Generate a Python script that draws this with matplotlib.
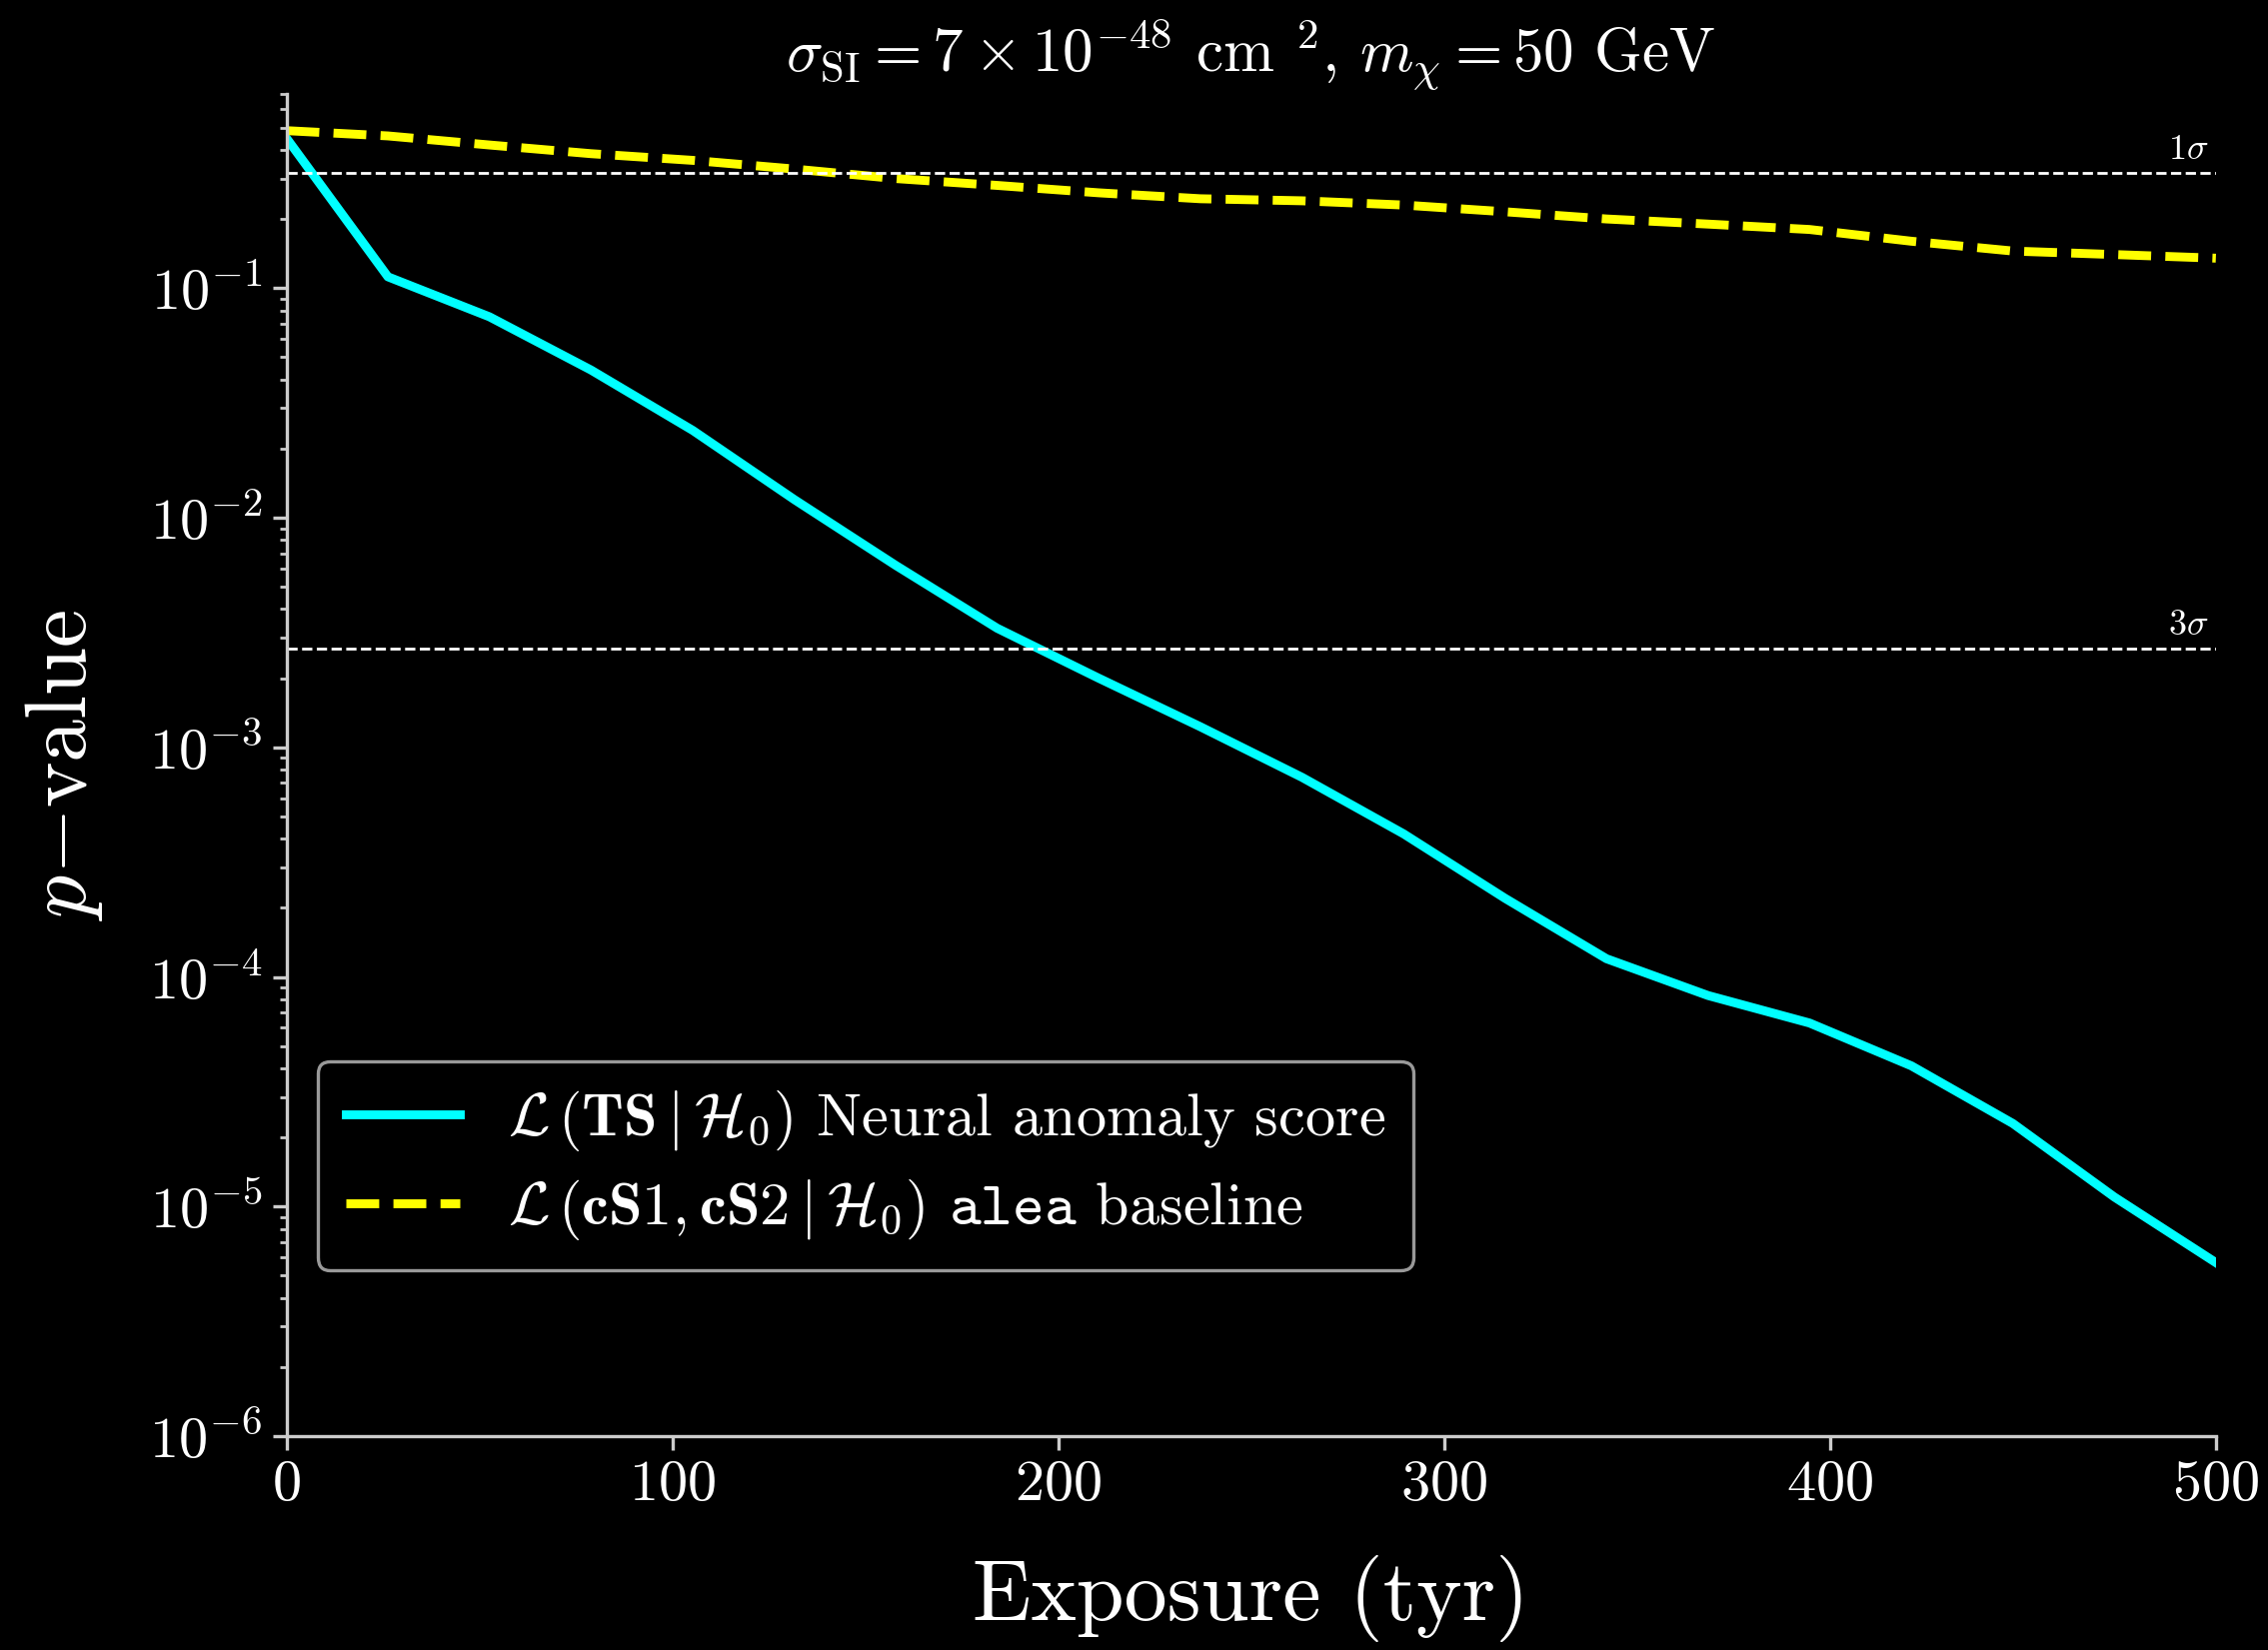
import numpy as np
import matplotlib
matplotlib.use('Agg')
import matplotlib.pyplot as plt

plt.rcParams['font.family'] = 'serif'
plt.rcParams['font.serif'] = ['cmr10']
plt.rcParams['mathtext.fontset'] = 'cm'
plt.rcParams['axes.formatter.use_mathtext'] = True
plt.rcParams['axes.unicode_minus'] = True

# exposure in tonne-years
exposure = [0, 26.3, 52.6, 78.9, 105.3, 131.6, 157.9, 184.2, 210.5, 236.8,
            263.2, 289.5, 315.8, 342.1, 368.4, 394.7, 421.1, 447.4, 473.7, 500]

# p-values
p_neural = [0.45, 0.112, 0.075, 0.044, 0.024, 0.012, 0.0062, 0.0033, 0.0020, 0.00123,
            7.4e-4, 4.2e-4, 2.2e-4, 1.2e-4, 8.3e-5, 6.3e-5, 4.1e-5, 2.3e-5, 1.1e-5, 5.7e-6]
p_alea = [0.485, 0.46, 0.42, 0.385, 0.36, 0.33, 0.30, 0.28, 0.26, 0.245,
          0.24, 0.23, 0.215, 0.20, 0.19, 0.18, 0.16, 0.145, 0.14, 0.135]

sigma_labels = [r'$1\sigma$', r'$3\sigma$']
sigma_pvals = [0.3173, 0.0027]

label_neural = r'$\mathcal{L}\,\left(\mathbf{TS}\mid\mathcal{H}_0\right)$ Neural anomaly score'
label_alea = r'$\mathcal{L}\,\left(\mathbf{cS1},\mathbf{cS2}\mid\mathcal{H}_0\right)$ $\mathtt{alea}$ baseline'

fg = '#cccccc'

fig, ax = plt.subplots(figsize=(2269 / 200, 1651 / 200), dpi=200)
fig.patch.set_facecolor('black')
ax.set_facecolor('black')
fig.subplots_adjust(left=0.1263, right=0.977, bottom=0.1296, top=0.943)

ax.plot(exposure, p_neural, color='cyan', lw=3.2, label=label_neural)
ax.plot(exposure, p_alea, color='yellow', lw=3.2, ls='--', label=label_alea)

for lab, pv in zip(sigma_labels, sigma_pvals):
    ax.axhline(pv, color='white', ls='--', lw=1.0)
    ax.text(498, pv * 1.07, lab, color='white', fontsize=13, ha='right', va='bottom')

ax.set_yscale('log')
ax.set_xlim(0, 500)
ax.set_ylim(1e-6, 0.7)
ax.set_xticks([0, 100, 200, 300, 400, 500])

for s in ['top', 'right']:
    ax.spines[s].set_visible(False)
for s in ['left', 'bottom']:
    ax.spines[s].set_color(fg)
    ax.spines[s].set_linewidth(1.2)

ax.tick_params(which='major', colors=fg, labelcolor='white', labelsize=21, length=5, width=1.2)
ax.tick_params(which='minor', colors=fg, length=2.5, width=1.0)

ax.set_xlabel('Exposure (tyr)', color='white', fontsize=31, labelpad=16)
ax.set_ylabel(r'$p{-}$value', color='white', fontsize=31, labelpad=16)
ax.set_title(r'$\sigma_{\mathrm{SI}} = 7\times10^{-48}$ cm $^2$, $m_\chi = 50$ GeV',
             color='white', fontsize=22, pad=8)

leg = ax.legend(loc='lower left', bbox_to_anchor=(0.0165, 0.124), borderaxespad=0,
                fontsize=21.7, facecolor='black', edgecolor='#999999', framealpha=1.0,
                handlelength=1.9, borderpad=0.45, labelspacing=0.4)
for t in leg.get_texts():
    t.set_color('white')
leg.get_frame().set_linewidth(1.2)

plt.savefig('out.png', dpi=200, facecolor='black')
